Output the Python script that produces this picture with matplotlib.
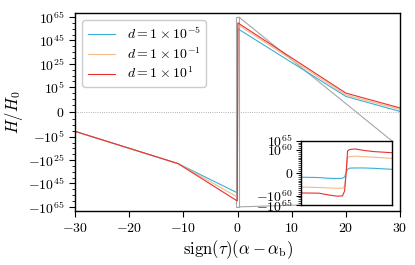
import numpy as np
import matplotlib
matplotlib.use("Agg")
import matplotlib.pyplot as plt
from matplotlib.patches import Rectangle, ConnectionPatch
from matplotlib.ticker import FixedLocator, FuncFormatter

plt.rcParams['mathtext.fontset'] = 'cm'
plt.rcParams['font.family'] = ['DejaVu Serif']

# ---------------- data ----------------
labels = [r'$d = 1\times10^{-5}$', r'$d = 1\times10^{-1}$', r'$d = 1\times10^{1}$']
colors = ['#3aaed8', '#f5b887', '#e8312f']

x_main = [-30, -11, -0.05, 0.05, 20, 30]
y_blue = [-3e0, -1e28, -1e53, 1e55, 1.5e-3, 4e-16]
y_orange = [-3e0, -1e28, -3e56, 3e58, 3e-2, 1e-14]
y_red = [-3e0, -1e28, -1e60, 1e60, 1e0, 2e-13]

inset_x = [-0.25, -0.15, -0.10, -0.05, -0.02, -0.008, 0.0, 0.008, 0.02, 0.05, 0.10, 0.15, 0.25]
inset_blue = [-1.6e50, -2.5e50, -6e50, -8e50, -6e50, -1e50, 0.0, 6e49, 2.5e50, 3e50, 3e50, 2e50, 6e49]
inset_orange = [-2.5e55, -5e55, -8e55, -1.2e56, -1.2e56, -1e55, 0.0, 1e56, 3e56, 6e56, 3e56, 1.6e56, 4e55]
inset_red = [-4e58, -5e58, -4e59, -2e60, -1.5e60, -3e57, 0.0, 3e59, 2e60, 4e60, 6e59, 1.6e59, 4e58]

main_major_exp = [5, 25, 45, 65]
main_minor_exp = [-10, -5, 0, 10, 15, 20, 30, 35, 40, 50, 55, 60]
inset_major_exp = [60, 65]
inset_minor_exp = list(range(49, 65))
x_ticks = [-30, -20, -10, 0, 10, 20, 30]

# ---------------- figure ----------------
fig = plt.figure(figsize=(4.15, 2.65), dpi=100)
ax = fig.add_axes([0.181, 0.204, 0.783, 0.747])

series = [y_blue, y_orange, y_red]
for ys, c, lab in zip(series, colors, labels):
    ax.plot(x_main, ys, color=c, lw=0.8, label=lab)

ax.axhline(0, color='0.6', ls=':', lw=0.6, zorder=0)

ax.set_yscale('symlog', linthresh=1e-15, linscale=1)
ax.set_xlim(-30, 30)
ax.set_ylim(-3e68, 3e68)


def yfmt(v, pos):
    if v == 0:
        return r'$0$'
    e = int(round(np.log10(abs(v))))
    return (r'$-10^{%d}$' if v < 0 else r'$10^{%d}$') % e


def xfmt(v, pos):
    return r'$%d$' % int(round(v))


maj = [-10.0 ** e for e in main_major_exp] + [0.0] + [10.0 ** e for e in main_major_exp]
mino = [-10.0 ** e for e in main_minor_exp] + [10.0 ** e for e in main_minor_exp]
ax.yaxis.set_major_locator(FixedLocator(maj))
ax.yaxis.set_minor_locator(FixedLocator(mino))
ax.yaxis.set_major_formatter(FuncFormatter(yfmt))
ax.xaxis.set_major_locator(FixedLocator(x_ticks))
ax.xaxis.set_minor_locator(FixedLocator([]))
ax.xaxis.set_major_formatter(FuncFormatter(xfmt))
ax.tick_params(which='major', length=4, width=0.8, labelsize=10)
ax.tick_params(which='minor', length=2.5, width=0.6)
for s in ax.spines.values():
    s.set_linewidth(1.0)

ax.set_xlabel(r'$\mathrm{sign}(\tau)(\alpha - \alpha_\mathrm{b})$', fontsize=12, labelpad=2)
ax.set_ylabel(r'$H/H_0$', fontsize=12, labelpad=2)

leg = ax.legend(loc='upper left', fontsize=10, frameon=True, fancybox=True,
                edgecolor='0.8', framealpha=1.0, labelspacing=0.3)

# ---------------- inset ----------------
axins = ax.inset_axes([0.694, 0.03, 0.28, 0.325])
inset_series = [inset_blue, inset_orange, inset_red]
for ys, c in zip(inset_series, colors):
    axins.plot(inset_x, ys, color=c, lw=0.8)
axins.set_yscale('symlog', linthresh=1e49, linscale=1)
inset_xlim = (-0.25, 0.25)
inset_ylim = (-1e65, 1e65)
axins.set_xlim(*inset_xlim)
axins.set_ylim(*inset_ylim)
imaj = [-10.0 ** e for e in inset_major_exp[::-1]] + [0.0] + [10.0 ** e for e in inset_major_exp]
imin = [-10.0 ** e for e in inset_minor_exp] + [10.0 ** e for e in inset_minor_exp]
axins.yaxis.set_major_locator(FixedLocator(imaj))
axins.yaxis.set_minor_locator(FixedLocator(imin))
axins.yaxis.set_major_formatter(FuncFormatter(yfmt))
axins.set_xticks([])
axins.tick_params(which='major', length=3.5, width=0.8, labelsize=10, pad=2)
axins.tick_params(which='minor', length=2, width=0.5)
for s in axins.spines.values():
    s.set_linewidth(1.0)

# indicator rectangle + connectors
ax.add_patch(Rectangle((inset_xlim[0], inset_ylim[0]), inset_xlim[1] - inset_xlim[0],
                       inset_ylim[1] - inset_ylim[0], fill=False, ec='0.65', lw=0.8, zorder=1))
c1 = ConnectionPatch(xyA=(inset_xlim[1], inset_ylim[1]), coordsA=ax.transData,
                     xyB=(1, 1), coordsB=axins.transAxes, color='0.65', lw=0.8)
c2 = ConnectionPatch(xyA=(inset_xlim[1], inset_ylim[0]), coordsA=ax.transData,
                     xyB=(0, 0), coordsB=axins.transAxes, color='0.65', lw=0.8)
ax.add_artist(c1)
ax.add_artist(c2)

fig.savefig('out.png', dpi=100)
